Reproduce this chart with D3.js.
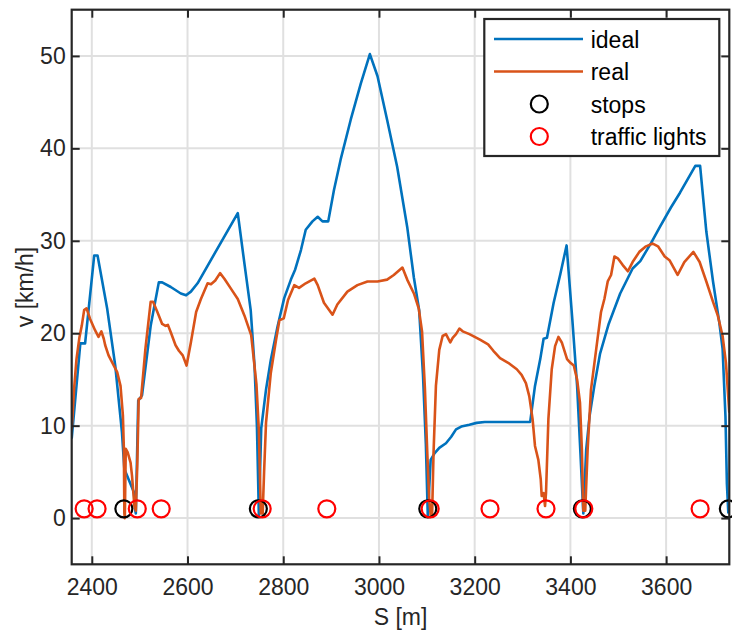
<!DOCTYPE html>
<html>
<head>
<meta charset="utf-8">
<script src="https://cdn.jsdelivr.net/npm/d3@7"></script>
<style>
  html, body { margin: 0; padding: 0; background: #ffffff; }
  svg { display: block; font-family: "Liberation Sans", Arial, Helvetica, sans-serif; }
</style>
</head>
<body>
<svg id="chart" width="732" height="632"></svg>
<script>
// Distance along the route [m] and speed [km/h] of the ideal profile
const idealS = [2358, 2376, 2386, 2405, 2412, 2432, 2449, 2463, 2468, 2488, 2491, 2492, 2497, 2505,
  2523, 2540, 2547, 2565, 2586, 2597, 2607, 2621, 2705, 2719, 2732, 2740, 2745, 2748, 2749, 2754,
  2764, 2774, 2788, 2802, 2816, 2825, 2837, 2847, 2861, 2872, 2882, 2894, 2906, 2920, 2941, 2962,
  2981, 2997, 3017, 3038, 3059, 3073, 3084, 3092, 3098, 3102, 3108, 3116, 3126, 3140, 3151, 3161,
  3172, 3189, 3204, 3221, 3316, 3326, 3337, 3344, 3351, 3365, 3379, 3392, 3404, 3414, 3421, 3427,
  3433, 3440, 3450, 3462, 3480, 3504, 3530, 3546, 3569, 3587, 3610, 3629, 3661, 3671, 3684, 3698,
  3711, 3718, 3724, 3727, 3730];
const idealV = [8.6, 18.9, 18.9, 28.4, 28.4, 22.7, 16.5, 9.3, 5.3, 2.8, 0.8, 0.5, 12.7, 13.3,
  20.8, 25.5, 25.5, 25.0, 24.3, 24.1, 24.5, 25.4, 33.0, 27.5, 22.5, 16.5, 10.0, 3.0, 0.3, 9.7,
  13.9, 17.1, 20.7, 23.8, 25.8, 26.9, 29.0, 31.2, 32.1, 32.6, 32.1, 32.1, 35.5, 38.8, 43.1, 47.0,
  50.2, 47.8, 43.1, 38.0, 31.5, 26.0, 22.5, 15.5, 8.0, 0.3, 6.3, 7.0, 7.6, 8.1, 8.8, 9.6,
  9.9, 10.1, 10.3, 10.4, 10.4, 14.3, 17.2, 19.4, 19.5, 23.3, 26.4, 29.5, 21.5, 14.3, 7.0, 0.5,
  7.4, 11.0, 14.3, 17.8, 21.0, 24.3, 27.0, 27.8, 29.8, 31.5, 33.6, 35.2, 38.1, 38.1, 31.0, 25.6,
  21.2, 18.3, 11.0, 3.7, 0.5];

// Measured (real) speed profile
const realS = [2358, 2363, 2368, 2374, 2379, 2384, 2389, 2396, 2407, 2414, 2420, 2425, 2428, 2435,
  2442, 2453, 2460, 2465, 2467, 2468, 2469, 2471, 2475, 2481, 2484, 2489, 2492, 2495, 2498, 2503,
  2512, 2523, 2528, 2537, 2547, 2554, 2559, 2565, 2575, 2582, 2590, 2598, 2607, 2618, 2628, 2642,
  2649, 2658, 2668, 2677, 2691, 2705, 2719, 2733, 2744, 2749, 2752, 2753, 2757, 2760, 2764, 2774,
  2785, 2792, 2801, 2810, 2823, 2833, 2847, 2865, 2872, 2885, 2903, 2913, 2934, 2955, 2976, 2997,
  3017, 3031, 3049, 3059, 3073, 3083, 3090, 3096, 3101, 3105, 3108, 3111, 3114, 3119, 3126, 3133,
  3140, 3149, 3154, 3161, 3168, 3175, 3189, 3211, 3228, 3239, 3253, 3270, 3288, 3298, 3307, 3314,
  3321, 3326, 3333, 3338, 3340, 3344, 3347, 3349, 3354, 3361, 3368, 3375, 3382, 3393, 3400, 3407,
  3414, 3420, 3424, 3427, 3431, 3436, 3443, 3454, 3464, 3471, 3478, 3485, 3492, 3499, 3509, 3520,
  3530, 3544, 3558, 3572, 3583, 3597, 3607, 3624, 3638, 3657, 3670, 3684, 3698, 3708, 3718, 3725,
  3732];
const realV = [9.5, 14.0, 17.2, 19.5, 20.8, 22.5, 22.7, 21.6, 20.3, 19.6, 20.2, 19.4, 18.7, 17.6,
  16.9, 15.8, 14.3, 11.1, 7.5, 0.5, 0.0, 7.5, 7.1, 6.0, 4.6, 1.3, 0.8, 5.7, 12.9, 13.0,
  18.3, 23.4, 23.4, 22.3, 21.0, 20.8, 20.9, 20.1, 18.7, 18.1, 17.6, 16.5, 19.0, 22.3, 23.7, 25.4,
  25.3, 25.7, 26.5, 25.9, 24.8, 23.7, 21.9, 19.8, 14.5, 9.5, 3.0, 0.5, 0.5, 5.0, 10.3, 15.7,
  19.3, 21.4, 21.6, 23.6, 25.2, 24.9, 25.4, 25.9, 25.2, 23.3, 22.0, 23.1, 24.5, 25.2, 25.6, 25.6,
  25.8, 26.3, 27.1, 25.8, 24.3, 22.7, 20.2, 14.0, 7.0, 2.0, 0.3, 0.3, 7.0, 14.3, 18.2, 19.7,
  19.9, 19.0, 19.5, 19.9, 20.5, 20.2, 19.9, 19.3, 18.8, 18.1, 17.3, 16.8, 16.1, 15.5, 14.6, 13.2,
  10.7, 7.8, 6.3, 4.2, 2.4, 2.7, 1.3, 2.7, 10.7, 16.1, 18.6, 19.6, 19.0, 17.2, 16.8, 16.5,
  15.0, 12.5, 7.4, 0.8, 0.8, 7.4, 13.9, 18.3, 22.3, 23.7, 25.6, 26.3, 28.3, 28.1, 27.4, 26.7,
  27.7, 28.8, 29.4, 29.7, 29.4, 28.3, 27.9, 26.3, 27.7, 28.8, 27.7, 25.6, 23.4, 21.9, 19.7, 16.8,
  11.4];

// Positions of stops and traffic lights along the route (drawn at v = 1)
const stopsS  = [2467, 2748, 3102, 3425, 3730];
const lightsS = [2384, 2411, 2495, 2545, 2756, 2891, 3107, 3232, 3349, 3428, 3671];
const markerV = 1;

const xTicks = [2400, 2600, 2800, 3000, 3200, 3400, 3600];
const yTicks = [0, 10, 20, 30, 40, 50];
const xDomain = [2358, 3732];
const yDomain = [-5, 55];

const seriesNames = ["ideal", "real", "stops", "traffic lights"];
const blue = "#0072BD", orange = "#D95319", ink = "#262626", gridCol = "#e0e0e0";

const svg = d3.select("#chart");
svg.append("rect").attr("width", 732).attr("height", 632).attr("fill", "#fff");

const L = 71.7, R = 729.3, T = 9.7, B = 564.3;
const x = d3.scaleLinear().domain(xDomain).range([L, R]);
const y = d3.scaleLinear().domain(yDomain).range([B, T]);

// grid
const grid = svg.append("g");
grid.selectAll("line.gx").data(xTicks).join("line")
  .attr("x1", d => x(d)).attr("x2", d => x(d)).attr("y1", T).attr("y2", B)
  .attr("stroke", gridCol).attr("stroke-width", 2);
grid.selectAll("line.gy").data(yTicks).join("line")
  .attr("y1", d => y(d)).attr("y2", d => y(d)).attr("x1", L).attr("x2", R)
  .attr("stroke", gridCol).attr("stroke-width", 2);

// clip region for the data lines
svg.append("clipPath").attr("id", "plotClip")
  .append("rect").attr("x", L).attr("y", T).attr("width", R - L).attr("height", B - T);

const line = d3.line().x(d => x(d[0])).y(d => y(d[1]));
const data = svg.append("g").attr("clip-path", "url(#plotClip)");
data.append("path").datum(d3.zip(idealS, idealV)).attr("d", line)
  .attr("fill", "none").attr("stroke", blue).attr("stroke-width", 2.6)
  .attr("stroke-linejoin", "round");
data.append("path").datum(d3.zip(realS, realV)).attr("d", line)
  .attr("fill", "none").attr("stroke", orange).attr("stroke-width", 2.6)
  .attr("stroke-linejoin", "round");

const marks = svg.append("g");
marks.selectAll("circle.stop").data(stopsS).join("circle")
  .attr("cx", d => x(d)).attr("cy", y(markerV)).attr("r", 8.5)
  .attr("fill", "none").attr("stroke", "#000").attr("stroke-width", 2.2);
marks.selectAll("circle.light").data(lightsS).join("circle")
  .attr("cx", d => x(d)).attr("cy", y(markerV)).attr("r", 8.5)
  .attr("fill", "none").attr("stroke", "#ff0000").attr("stroke-width", 2.2);

// axes with inward ticks on all four sides
const fontSize = 23;
const styleAxis = g => {
  g.select(".domain").remove();
  g.selectAll(".tick line").attr("stroke", ink).attr("stroke-width", 2);
  g.selectAll(".tick text").attr("fill", ink).attr("font-size", fontSize)
    .attr("font-family", "'Liberation Sans', Arial, Helvetica, sans-serif");
};
svg.append("g").attr("transform", `translate(0,${B})`)
  .call(d3.axisBottom(x).tickValues(xTicks).tickSizeInner(-8).tickSizeOuter(0).tickPadding(14.5).tickFormat(d3.format("d")))
  .call(styleAxis);
svg.append("g").attr("transform", `translate(0,${T})`)
  .call(d3.axisTop(x).tickValues(xTicks).tickSizeInner(-8).tickSizeOuter(0).tickFormat(""))
  .call(styleAxis);
svg.append("g").attr("transform", `translate(${L},0)`)
  .call(d3.axisLeft(y).tickValues(yTicks).tickSizeInner(-8).tickSizeOuter(0).tickPadding(6))
  .call(styleAxis);
svg.append("g").attr("transform", `translate(${R},0)`)
  .call(d3.axisRight(y).tickValues(yTicks).tickSizeInner(-8).tickSizeOuter(0).tickFormat(""))
  .call(styleAxis);

svg.append("rect").attr("x", L).attr("y", T).attr("width", R - L).attr("height", B - T)
  .attr("fill", "none").attr("stroke", ink).attr("stroke-width", 2.2);

// axis labels
svg.append("text").attr("x", (L + R) / 2).attr("y", 625).attr("text-anchor", "middle")
  .attr("font-size", fontSize).attr("fill", ink).text("S [m]");
svg.append("text").attr("transform", `translate(33,${(T + B) / 2}) rotate(-90)`)
  .attr("text-anchor", "middle").attr("font-size", fontSize).attr("fill", ink).text("v [km/h]");

// legend
const lg = svg.append("g");
lg.append("rect").attr("x", 484.3).attr("y", 19).attr("width", 235).attr("height", 137)
  .attr("fill", "#fff").attr("stroke", ink).attr("stroke-width", 2.2);
const rows = [39, 71.5, 104, 136.5];
lg.append("line").attr("x1", 494).attr("x2", 583).attr("y1", rows[0]).attr("y2", rows[0])
  .attr("stroke", blue).attr("stroke-width", 2.6);
lg.append("line").attr("x1", 494).attr("x2", 583).attr("y1", rows[1]).attr("y2", rows[1])
  .attr("stroke", orange).attr("stroke-width", 2.6);
lg.append("circle").attr("cx", 539.3).attr("cy", rows[2]).attr("r", 8.5)
  .attr("fill", "none").attr("stroke", "#000").attr("stroke-width", 2.2);
lg.append("circle").attr("cx", 539.3).attr("cy", rows[3]).attr("r", 8.5)
  .attr("fill", "none").attr("stroke", "#ff0000").attr("stroke-width", 2.2);
lg.selectAll("text").data(seriesNames).join("text")
  .attr("x", 590.7).attr("y", (d, i) => rows[i] + 8.5)
  .attr("font-size", fontSize).attr("fill", "#000").text(d => d);
</script>
</body>
</html>
